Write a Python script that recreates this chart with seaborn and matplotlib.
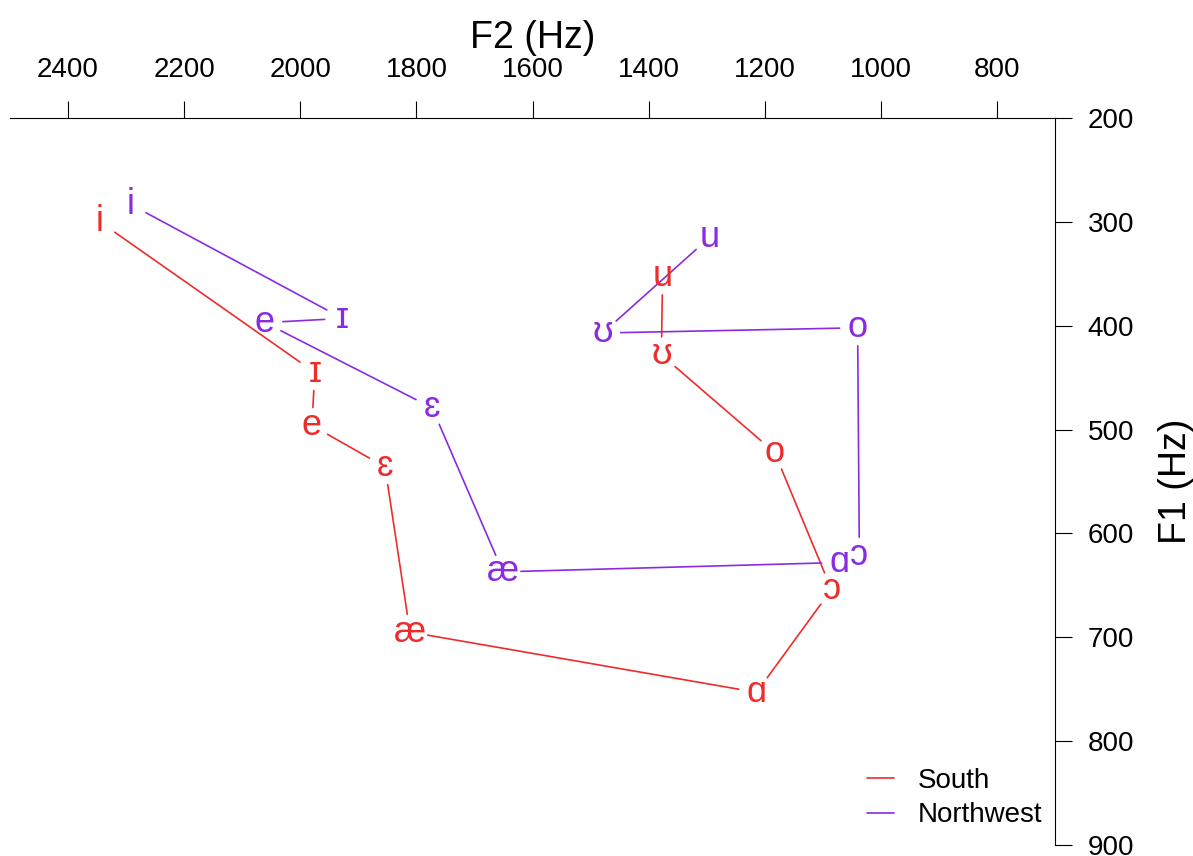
import numpy as np
import pandas as pd
import seaborn as sns
import matplotlib.pyplot as plt

# Vogais (IPA) na ordem em que as linhas as ligam
vogais = ["i", "ɪ", "e", "ɛ", "æ", "ɑ", "ɔ", "o", "ʊ", "u"]
dialetos = ["South", "Northwest"]

# Formantes médios (Hz)
south_f1 = [300, 445, 496, 536, 695, 753, 654, 522, 428, 353]
south_f2 = [2345, 1975, 1980, 1854, 1811, 1214, 1085, 1183, 1378, 1376]
nw_f1 = [283, 393, 397, 479, 637, 628, 621, 402, 407, 315]
nw_f2 = [2293, 1927, 2061, 1773, 1651, 1071, 1037, 1040, 1479, 1295]

cores = {"South": "#EE2C2C", "Northwest": "#8A2BE2"}
xticks = [2400, 2200, 2000, 1800, 1600, 1400, 1200, 1000, 800]
yticks = [200, 300, 400, 500, 600, 700, 800, 900]

sns.set_style("white")
plt.rcParams["font.family"] = ["Liberation Sans", "DejaVu Sans"]
plt.rcParams["text.color"] = "black"
plt.rcParams["axes.labelcolor"] = "black"
plt.rcParams["xtick.color"] = "black"
plt.rcParams["ytick.color"] = "black"

fig = plt.figure(figsize=(11.93, 8.56), dpi=100)
ax = fig.add_axes([10 / 1193, 11 / 856, 1045 / 1193, 727 / 856])
ax.set_xlim(2500, 700)
ax.set_ylim(900, 200)


# Encurta cada segmento para deixar espaço em volta dos rótulos
def encurtar(x0, y0, x1, y1, gap=18):
    pa = ax.transData.transform((x0, y0))
    pb = ax.transData.transform((x1, y1))
    d = pb - pa
    L = np.hypot(*d)
    if L <= 2 * gap:
        return None
    u = d / L
    inv = ax.transData.inverted()
    return inv.transform(pa + u * gap), inv.transform(pb - u * gap)


linhas = []
for dial, f2s, f1s in [("South", south_f2, south_f1), ("Northwest", nw_f2, nw_f1)]:
    for k in range(len(vogais) - 1):
        seg = encurtar(f2s[k], f1s[k], f2s[k + 1], f1s[k + 1])
        if seg is None:
            continue
        a, b = seg
        linhas.append([dial, f"{dial}{k}", a[0], a[1]])
        linhas.append([dial, f"{dial}{k}", b[0], b[1]])
df_seg = pd.DataFrame(linhas, columns=["dialeto", "seg", "F2", "F1"])

sns.lineplot(data=df_seg, x="F2", y="F1", hue="dialeto", hue_order=dialetos,
             units="seg", estimator=None, sort=False, palette=cores,
             lw=1.2, ax=ax)

# Rótulos das vogais
for dial, f2s, f1s in [("South", south_f2, south_f1), ("Northwest", nw_f2, nw_f1)]:
    for v, x, y in zip(vogais, f2s, f1s):
        ax.text(x, y, v, color=cores[dial], fontsize=26, ha="center", va="center")

ax.set_xlim(2500, 700)
ax.set_ylim(900, 200)

# Eixos no topo e à direita
ax.xaxis.tick_top()
ax.xaxis.set_label_position("top")
ax.yaxis.tick_right()
ax.yaxis.set_label_position("right")
ax.set_xticks(xticks)
ax.set_yticks(yticks)
for lado in ["left", "bottom"]:
    ax.spines[lado].set_visible(False)
for lado in ["top", "right"]:
    ax.spines[lado].set_visible(True)
    ax.spines[lado].set_color("black")
    ax.spines[lado].set_linewidth(0.8)
ax.tick_params(axis="x", direction="out", length=12.5, width=0.8,
               labelsize=20, pad=13, color="black", labelcolor="black")
ax.tick_params(axis="y", direction="out", length=12.5, width=0.8,
               labelsize=20, pad=11, color="black", labelcolor="black")
ax.set_xlabel("F2 (Hz)", fontsize=27, labelpad=6, color="black")
ax.set_ylabel("F1 (Hz)", fontsize=27, labelpad=17, color="black")

handles, labels = ax.get_legend_handles_labels()
leg = ax.legend(handles, labels, loc="lower right", bbox_to_anchor=(0.988, 0.023),
                frameon=False, fontsize=20, handlelength=1.0, handletextpad=0.85,
                labelspacing=0.3, borderpad=0, borderaxespad=0)
for t in leg.get_texts():
    t.set_color("black")

plt.savefig("out.png", dpi=100)
